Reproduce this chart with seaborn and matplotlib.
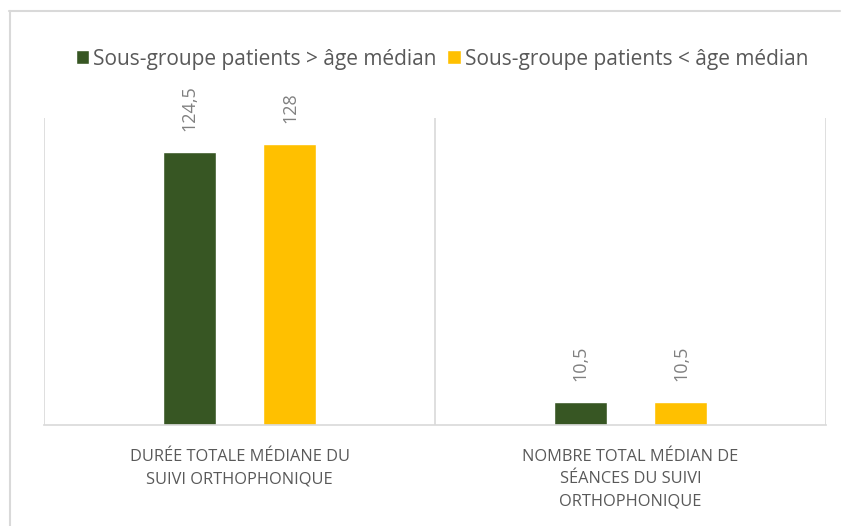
import matplotlib
matplotlib.use("Agg")
import matplotlib.pyplot as plt
from matplotlib.lines import Line2D
import seaborn as sns
import pandas as pd

categories = ["DURÉE TOTALE MÉDIANE DU\nSUIVI ORTHOPHONIQUE",
              "NOMBRE TOTAL MÉDIAN DE\nSÉANCES DU SUIVI\nORTHOPHONIQUE"]
series_names = ["Sous-groupe patients > âge médian", "Sous-groupe patients < âge médian"]
values_older = [124.5, 10.5]
values_younger = [128, 10.5]
colors = ["#375623", "#FFC000"]

df = pd.DataFrame({
    "cat": categories * 2,
    "serie": [series_names[0]] * 2 + [series_names[1]] * 2,
    "val": values_older + values_younger,
})

sns.set_theme(style="white")
plt.rcParams["font.family"] = ["Open Sans", "DejaVu Sans"]

W, H = 848, 526
fig = plt.figure(figsize=(W / 100, H / 100), dpi=100)
ax = fig.add_axes([44 / W, 1 - 425 / H, (826 - 44) / W, (425 - 118) / H])

sns.barplot(data=df, x="cat", y="val", hue="serie", order=categories,
            hue_order=series_names, palette=colors, width=0.516, gap=0.474,
            saturation=1, ax=ax, legend=True)

ax.set_ylim(0, 140)
ax.set_xlim(-0.5, 1.5)
ax.set_xlabel("")
ax.set_ylabel("")
ax.set_yticks([])
for s in ["top", "right", "left"]:
    ax.spines[s].set_visible(False)
ax.spines["bottom"].set_color("#D9D9D9")
ax.spines["bottom"].set_linewidth(1.2)
for xv in [-0.5, 0.5, 1.5]:
    ax.axvline(xv, color="#D9D9D9", lw=1.2, zorder=0)

ax.tick_params(axis="x", length=0, pad=17, labelsize=11.8, labelcolor="#595959")
for t in ax.get_xticklabels():
    t.set_linespacing(1.55)
    t.set_verticalalignment("top")

fmt = lambda v: (f"{v:g}").replace(".", ",")
for cont in ax.containers:
    ax.bar_label(cont, labels=[fmt(v) for v in cont.datavalues], rotation=90,
                 padding=15, fontsize=13, color="#808080")

handles, labels = ax.get_legend_handles_labels()
ax.legend(handles, labels, loc="center", bbox_to_anchor=(442 / W, (H - 59) / H),
          bbox_transform=fig.transFigure, ncol=2, frameon=False,
          fontsize=15, labelcolor="#595959", handlelength=0.65, handleheight=0.65,
          handletextpad=0.2, columnspacing=0.5, borderpad=0)

# figure border (top and left edges visible)
fig.add_artist(Line2D([9 / W, 840 / W], [1 - 11 / H, 1 - 11 / H], color="#D9D9D9", lw=1.5))
fig.add_artist(Line2D([9.5 / W, 9.5 / W], [0, 1 - 11 / H], color="#D9D9D9", lw=1.5))

fig.savefig("out.png", dpi=100)
